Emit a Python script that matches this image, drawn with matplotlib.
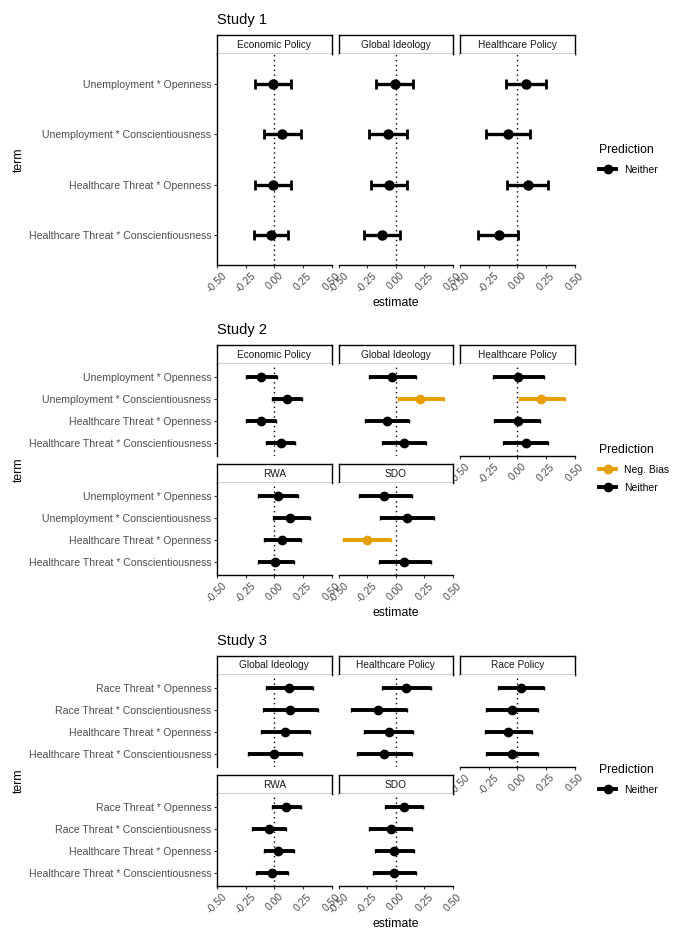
import matplotlib
matplotlib.use("Agg")
import matplotlib.pyplot as plt
from matplotlib.lines import Line2D
import numpy as np

plt.rcParams['font.family'] = ['Liberation Sans', 'DejaVu Sans']

# ---- data ----
study1_terms = ["Unemployment * Openness", "Unemployment * Conscientiousness",
                "Healthcare Threat * Openness", "Healthcare Threat * Conscientiousness"]
study1_outcomes = ["Economic Policy", "Global Ideology", "Healthcare Policy"]
study1_est = [[-0.01, 0.07, -0.01, -0.03],
              [-0.01, -0.07, -0.06, -0.12],
              [0.08, -0.08, 0.09, -0.16]]
study1_low = [[-0.17, -0.09, -0.17, -0.18],
              [-0.17, -0.23, -0.22, -0.28],
              [-0.10, -0.27, -0.09, -0.34]]
study1_high = [[0.15, 0.23, 0.15, 0.12],
               [0.15, 0.10, 0.10, 0.04],
               [0.25, 0.11, 0.27, 0.01]]
study1_pred = [["Neither"] * 4, ["Neither"] * 4, ["Neither"] * 4]

study2_terms = study1_terms
study2_outcomes = ["Economic Policy", "Global Ideology", "Healthcare Policy", "RWA", "SDO"]
study2_est = [[-0.12, 0.11, -0.12, 0.055],
              [-0.03, 0.215, -0.08, 0.07],
              [0.01, 0.21, 0.005, 0.075],
              [0.035, 0.14, 0.07, 0.01],
              [-0.10, 0.095, -0.25, 0.07]]
study2_low = [[-0.25, -0.02, -0.25, -0.07],
              [-0.23, 0.02, -0.27, -0.12],
              [-0.21, 0.015, -0.20, -0.125],
              [-0.14, -0.015, -0.09, -0.145],
              [-0.32, -0.14, -0.46, -0.145]]
study2_high = [[0.02, 0.24, 0.015, 0.185],
               [0.18, 0.42, 0.12, 0.26],
               [0.23, 0.42, 0.20, 0.27],
               [0.21, 0.31, 0.23, 0.175],
               [0.145, 0.33, -0.04, 0.31]]
study2_pred = [["Neither", "Neither", "Neither", "Neither"],
               ["Neither", "Neg. Bias", "Neither", "Neither"],
               ["Neither", "Neg. Bias", "Neither", "Neither"],
               ["Neither", "Neither", "Neither", "Neither"],
               ["Neither", "Neither", "Neg. Bias", "Neither"]]

study3_terms = ["Race Threat * Openness", "Race Threat * Conscientiousness",
                "Healthcare Threat * Openness", "Healthcare Threat * Conscientiousness"]
study3_outcomes = ["Global Ideology", "Healthcare Policy", "Race Policy", "RWA", "SDO"]
study3_est = [[0.13, 0.14, 0.095, 0.0],
              [0.09, -0.155, -0.06, -0.10],
              [0.03, -0.045, -0.08, -0.045],
              [0.105, -0.045, 0.035, -0.02],
              [0.07, -0.045, -0.015, -0.015]]
study3_low = [[-0.07, -0.10, -0.115, -0.23],
              [-0.12, -0.39, -0.28, -0.34],
              [-0.165, -0.27, -0.28, -0.27],
              [-0.02, -0.19, -0.09, -0.16],
              [-0.095, -0.23, -0.18, -0.195]]
study3_high = [[0.34, 0.385, 0.315, 0.24],
               [0.31, 0.095, 0.155, 0.14],
               [0.235, 0.185, 0.13, 0.185],
               [0.235, 0.10, 0.17, 0.12],
               [0.235, 0.145, 0.16, 0.18]]
study3_pred = [["Neither"] * 4] * 5

x_ticks = [-0.5, -0.25, 0.0, 0.25, 0.5]
x_ticklabels = ["-0.50", "-0.25", "0.00", "0.25", "0.50"]
pred_colors = {"Neither": "black", "Neg. Bias": "#E69F00"}

W, H = 688, 944
fig = plt.figure(figsize=(W / 100, H / 100), dpi=100)


def box(x, y, w, h):
    return [x / W, 1 - (y + h) / H, w / W, h / H]


def draw_study(title, terms, outcomes, est, low, high, pred, top, panel_h, capped, legend_y, legend_items):
    n_rows = (len(outcomes) + 2) // 3
    for k, outcome in enumerate(outcomes):
        r, c = divmod(k, 3)
        x0 = 217 + c * 121.5
        strip_top = top + r * (19 + panel_h + 8.3)
        sax = fig.add_axes(box(x0, strip_top, 114.5, 19))
        sax.set_xticks([])
        sax.set_yticks([])
        for s in sax.spines.values():
            s.set_linewidth(1.0)
        sax.text(0.5, 0.5, outcome, ha='center', va='center', fontsize=7.3, color='#1A1A1A',
                 transform=sax.transAxes)

        ax = fig.add_axes(box(x0, strip_top + 19, 114.5, panel_h))
        ax.axvline(0, color='black', ls=(0, (1, 2.5)), lw=1.0, zorder=1)
        ypos = np.arange(1, len(terms) + 1)
        e = np.array(est[k])
        lo = np.array(low[k])
        hi = np.array(high[k])
        for i in range(len(terms)):
            col = pred_colors[pred[k][i]]
            if capped:
                ax.errorbar(e[i], ypos[i], xerr=[[e[i] - lo[i]], [hi[i] - e[i]]], fmt='o', color=col,
                            ms=6.5, elinewidth=2.4, capsize=3.4, capthick=2.0, zorder=3)
            else:
                ax.errorbar(e[i], ypos[i], xerr=[[e[i] - lo[i]], [hi[i] - e[i]]], fmt='o', color=col,
                            ms=6.0, elinewidth=2.8, capsize=1.2, capthick=1.0, zorder=3)
        ax.set_xlim(-0.5, 0.5)
        ax.set_ylim(len(terms) + 0.6, 0.4)
        ax.spines['top'].set_visible(False)
        ax.spines['right'].set_visible(False)
        ax.spines['left'].set_linewidth(1.0)
        ax.spines['bottom'].set_linewidth(1.0)
        has_below = k + 3 < len(outcomes)
        ax.set_xticks(x_ticks)
        ax.set_yticks(ypos)
        ax.tick_params(length=2.5, width=0.8, color='#333333', labelsize=7.6, labelcolor='#4D4D4D', pad=1.5)
        if c == 0:
            ax.set_yticklabels(terms)
        else:
            ax.spines['left'].set_visible(False)
            ax.tick_params(axis='y', left=False, labelleft=False)
        if has_below:
            ax.spines['bottom'].set_visible(False)
            ax.tick_params(axis='x', bottom=False, labelbottom=False)
        else:
            ax.set_xticklabels(x_ticklabels, rotation=45, ha='center', va='top')

    total_h = n_rows * (19 + panel_h) + (n_rows - 1) * 8.3
    fig.text(217 / W, 1 - (top - 15) / H, title, fontsize=10.5, ha='left', va='center')
    fig.text(19 / W, 1 - (top + total_h / 2 + 10) / H, "term", fontsize=8.8, rotation=90,
             ha='center', va='center')
    fig.text(396 / W, 1 - (top + total_h + 38) / H, "estimate", fontsize=8.8, ha='center', va='center')

    handles = [Line2D([], [], color=pred_colors[p], lw=2.8, marker='o', ms=6) for p in legend_items]
    fig.legend(handles, legend_items, title="Prediction", loc='upper left',
               bbox_to_anchor=(594 / W, 1 - legend_y / H), frameon=False, fontsize=7.5,
               title_fontsize=8.8, alignment='left', handlelength=1.6, handletextpad=0.8,
               labelspacing=0.8, borderpad=0)


draw_study("Study 1", study1_terms, study1_outcomes, study1_est, study1_low, study1_high,
           study1_pred, 35, 211, True, 139, ["Neither"])
draw_study("Study 2", study2_terms, study2_outcomes, study2_est, study2_low, study2_high,
           study2_pred, 345, 92, False, 439, ["Neg. Bias", "Neither"])
draw_study("Study 3", study3_terms, study3_outcomes, study3_est, study3_low, study3_high,
           study3_pred, 655.7, 92, False, 759, ["Neither"])

fig.savefig("out.png", dpi=100)
